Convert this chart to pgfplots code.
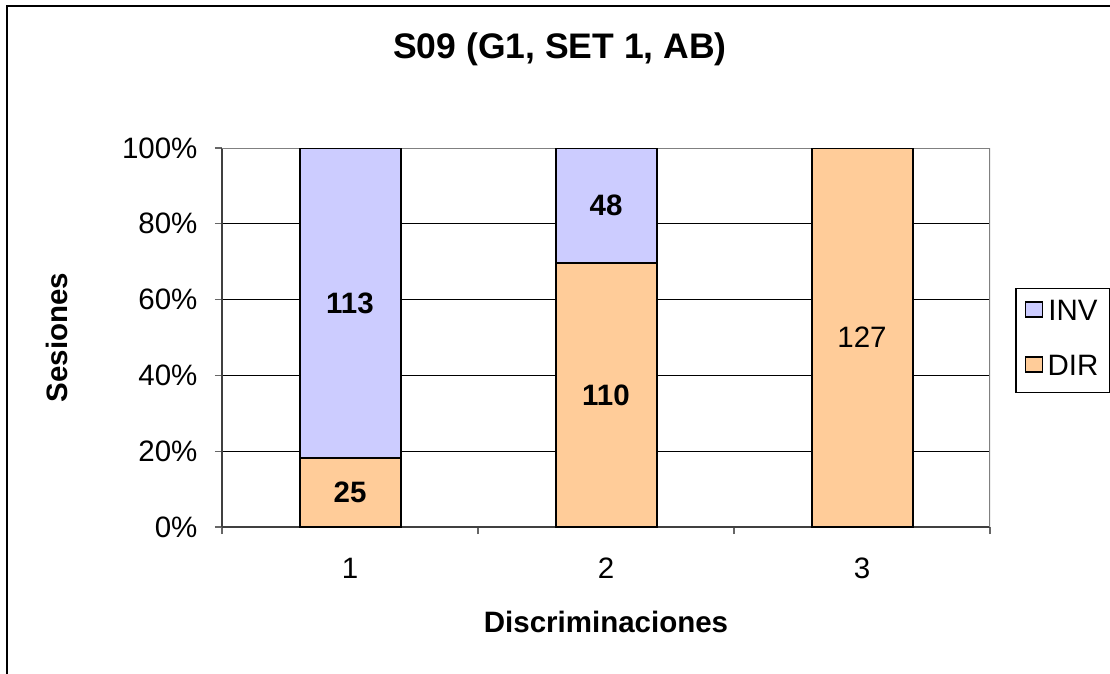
\documentclass[border=0pt]{standalone}
\usepackage{pgfplots}
\usepackage{pgfplotstable}
\pgfplotsset{compat=1.18}
\usepackage{fontspec}
\setmainfont{Liberation Sans}
\definecolor{invc}{HTML}{CCCCFF}
\definecolor{dirc}{HTML}{FFCC99}
\pgfplotstableread{
x DIR INV
1 25 113
2 110 48
3 127 0
}\data
\pgfplotsset{geom/.style={
  at={(222pt,146pt)}, anchor=south west,
  scale only axis, width=768pt, height=379pt,
  enlargelimits=false,
  xmin=0.5, xmax=3.5, ymin=0, ymax=100}}
\begin{document}
\begin{tikzpicture}[x=1pt,y=1pt,font=\fontsize{29.5}{34}\selectfont]
\useasboundingbox (0,0) rectangle (1110,673);
\fill[white] (0,0) rectangle (1110,673);
\draw[line width=2pt] (7,-5) -- (7,667) -- (1115,667);
\begin{axis}[
  geom,
  ybar stacked, bar width=101pt,
  xtick={1,2,3}, minor xtick={0.5,1.5,2.5,3.5},
  ytick={0,20,40,60,80,100},
  yticklabel={\pgfmathprintnumber[assume math mode=true]{\tick}\%},
  xticklabel={\pgfmathprintnumber[assume math mode=true]{\tick}},
  axis x line*=bottom, axis y line*=left,
  axis line style={draw=black!75, line width=1.8pt},
  tick align=outside, major tick length=7pt, minor tick length=7pt,
  every tick/.style={draw=black!60, line width=1.2pt},
  every major x tick/.append style={draw=none},
  ymajorgrids, major grid style={draw=black, line width=0.9pt},
  tick label style={font=\fontsize{29.5}{34}\selectfont},
  xticklabel style={anchor=base, yshift=-44pt},
  yticklabel style={anchor=east, xshift=-14pt},
  title={S09 (G1, SET 1, AB)},
  title style={at={(axis description cs:0.4401,1.245)}, anchor=center, font=\bfseries\fontsize{35.5}{40}\selectfont},
  xlabel={Discriminaciones},
  xlabel style={at={(axis description cs:0.5,-0.2507)}, anchor=center, font=\bfseries\fontsize{29.5}{34}\selectfont},
  ylabel={Sesiones},
  ylabel style={at={(axis description cs:-0.2148,0.5)}, anchor=center, font=\bfseries\fontsize{29.5}{34}\selectfont},
  legend style={at={(1.0326,0.492)}, anchor=west, draw=black, line width=1.5pt,
    inner sep=9pt, row sep=24pt,
    nodes={inner sep=2pt, text height=21pt, text depth=6pt, font=\fontsize{29.5}{34}\selectfont}},
  reverse legend,
]
\addplot[fill=dirc, draw=black, line width=2pt,
  legend image code/.code={\draw[fill=dirc, draw=black, line width=1.6pt] (0pt,-4pt) rectangle (17pt,11pt); \path (19pt,0pt);}]
  table[x=x, y expr=100*\thisrow{DIR}/(\thisrow{DIR}+\thisrow{INV})] {\data};
\addlegendentry{DIR}
\addplot[fill=invc, draw=black, line width=2pt,
  legend image code/.code={\draw[fill=invc, draw=black, line width=1.6pt] (0pt,-4pt) rectangle (17pt,11pt); \path (19pt,0pt);}]
  table[x=x, y expr=100*\thisrow{INV}/(\thisrow{DIR}+\thisrow{INV})] {\data};
\addlegendentry{INV}
\draw[draw=black!50, line width=2pt] (rel axis cs:0,1) -- (rel axis cs:1,1) -- (rel axis cs:1,0);
\end{axis}
\begin{axis}[geom, hide axis, clip=false,
  nodes near coords, point meta=explicit symbolic,
  nodes near coords style={anchor=center, inner sep=0pt}]
\addplot[draw=none, mark=none,
  every node near coord/.append style={font=\bfseries\fontsize{29.5}{34}\selectfont}]
  coordinates {(1,9.06) [25] (1,59.06) [113] (2,34.81) [110] (2,84.81) [48]};
\addplot[draw=none, mark=none,
  every node near coord/.append style={font=\fontsize{29.5}{34}\selectfont}]
  coordinates {(3,50) [127]};
\end{axis}
\end{tikzpicture}
\end{document}
